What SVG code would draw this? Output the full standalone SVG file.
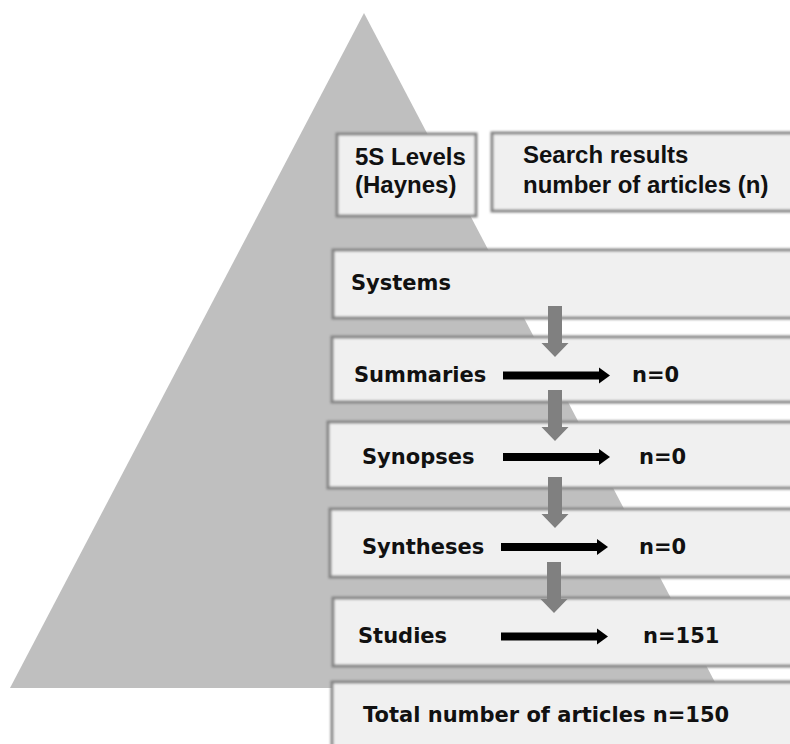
<svg xmlns="http://www.w3.org/2000/svg" xmlns:xlink="http://www.w3.org/1999/xlink" width="790" height="744" viewBox="0 0 790 744">
<style>
.box{fill:#f0f0f0;stroke:#858585;stroke-width:3}
.hdr{font-family:"Liberation Sans",Arial,sans-serif;font-weight:bold;font-size:24px;fill:#111}
.lbl{font-family:"DejaVu Sans",Verdana,sans-serif;font-weight:bold;font-size:21px;fill:#111}
.down{fill:#808080}
.right{fill:#000}
</style>
<defs>
<filter id="soft" x="-5%" y="-20%" width="110%" height="140%">
<feGaussianBlur stdDeviation="0.8"/>
</filter>
<path id="downArrow" d="M-7,0 H7 V37 H13.5 L0,51 L-13.5,37 H-7 Z"/>
<path id="rightArrow" d="M0,-4 H96 V-8 L107,0 L96,8 V4 H0 Z"/>
</defs>
<rect x="0" y="0" width="790" height="744" fill="#ffffff"/>
<polygon id="pyramid" points="364,13 718,688 10,688" fill="#bfbfbf"/>

<g id="node-levels">
<rect class="box" x="337" y="134" width="139" height="82" filter="url(#soft)"/>
<text class="hdr" x="355" y="165">5S Levels</text>
<text class="hdr" x="355" y="193">(Haynes)</text>
</g>
<g id="node-results">
<rect class="box" x="492" y="133" width="320" height="78" filter="url(#soft)"/>
<text class="hdr" x="523" y="163">Search results</text>
<text class="hdr" x="523" y="193">number of articles (n)</text>
</g>
<g id="node-systems">
<rect class="box" x="333" y="250" width="480" height="68" filter="url(#soft)"/>
<text class="lbl" x="351" y="290">Systems</text>
</g>
<g id="node-summaries">
<rect class="box" x="332" y="337" width="480" height="65" filter="url(#soft)"/>
<text class="lbl" x="354" y="382">Summaries</text>
<text class="lbl" x="632" y="382">n=0</text>
</g>
<g id="node-synopses">
<rect class="box" x="328" y="422" width="480" height="66" filter="url(#soft)"/>
<text class="lbl" x="362" y="464">Synopses</text>
<text class="lbl" x="639" y="464">n=0</text>
</g>
<g id="node-syntheses">
<rect class="box" x="330" y="509" width="480" height="68" filter="url(#soft)"/>
<text class="lbl" x="362" y="554">Syntheses</text>
<text class="lbl" x="639" y="554">n=0</text>
</g>
<g id="node-studies">
<rect class="box" x="333" y="598" width="480" height="68" filter="url(#soft)"/>
<text class="lbl" x="358" y="643">Studies</text>
<text class="lbl" x="643" y="643">n=151</text>
</g>
<g id="node-total">
<rect class="box" x="332" y="682" width="480" height="80" filter="url(#soft)"/>
<text class="lbl" x="363" y="722">Total number of articles n=150</text>
</g>

<g id="connectors">
<use xlink:href="#downArrow" class="down" x="555" y="306"/>
<use xlink:href="#downArrow" class="down" x="555" y="390"/>
<use xlink:href="#downArrow" class="down" x="555" y="477"/>
<use xlink:href="#downArrow" class="down" x="554" y="562"/>
<use xlink:href="#rightArrow" class="right" x="503" y="375.5"/>
<use xlink:href="#rightArrow" class="right" x="503" y="457"/>
<use xlink:href="#rightArrow" class="right" x="501" y="547"/>
<use xlink:href="#rightArrow" class="right" x="501" y="636.5"/>
</g>
</svg>
